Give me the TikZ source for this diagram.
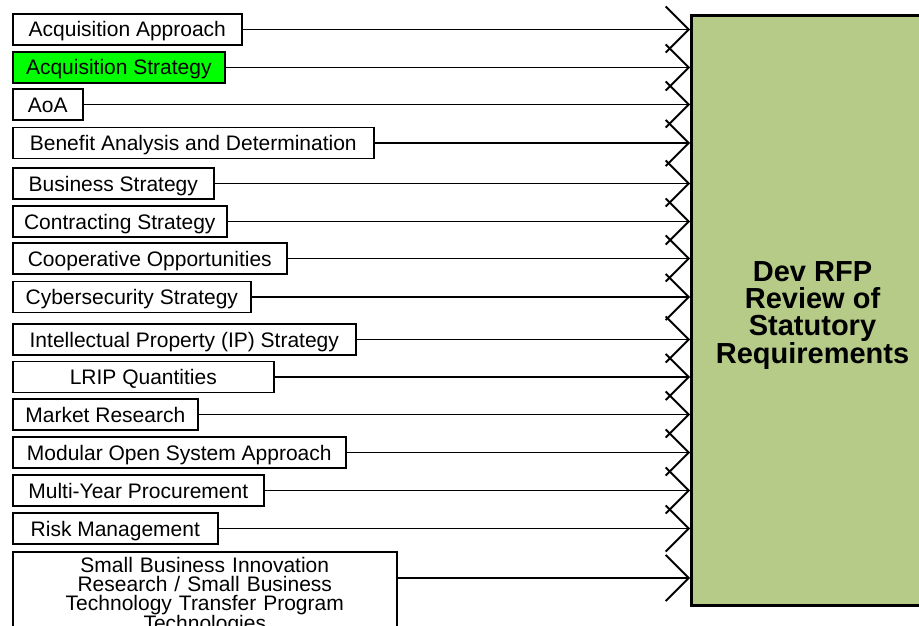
\documentclass[tikz,border=0pt]{standalone}
\usepackage{fontspec}
\setmainfont{Liberation Sans}
\usetikzlibrary{arrows.meta, positioning}
\definecolor{RFPGreen}{HTML}{B7CB88}
\definecolor{ItemHighlight}{HTML}{00FF00}

\begin{document}
\begin{tikzpicture}[
    x=1pt, y=-1pt,
    >={Straight Barb[length=23pt, width=46pt]},
    % Box Styles
    box/.style={draw=black, line width=1.6pt, fill=white, inner sep=0pt, font=\fontsize{21}{19}\selectfont},
    item/.style={box, anchor=west, minimum height=31pt, text height=15pt, text depth=0pt},
    highlight/.style={item, fill=ItemHighlight},
    review/.style={draw=black, line width=3pt, fill=RFPGreen, anchor=north west},
    reviewtext/.style={align=center, inner sep=0pt, font=\bfseries\fontsize{29}{26.7}\selectfont},
    % Connector Styles
    feed/.style={line width=1.8pt, ->}
]
    \useasboundingbox (0,0) rectangle (919,626);
    \clip (0,0) rectangle (919,626);

    % ==========================================
    % REVIEW BOX
    % ==========================================
    \node[review, minimum width=242pt, minimum height=590pt] (rfp) at (690,14) {};
    \node[reviewtext] (rfptext) at ([yshift=-5pt]rfp.center)
        {Dev RFP\\Review of\\Statutory\\Requirements};

    % ==========================================
    % INPUT ITEMS
    % ==========================================
    \node[item, minimum width=229pt] (acqapp) at (12,29.5) {Acquisition Approach};
    \node[highlight, minimum width=212pt] (acqstrat) at (12,67.5) {Acquisition Strategy};
    \node[item, minimum width=70pt] (aoa) at (12,104.5) {AoA};
    \node[item, minimum width=361pt] (benefit) at (12,143) {Benefit Analysis and Determination};
    \node[item, minimum width=201pt] (busstrat) at (12,183.5) {Business Strategy};
    \node[item, minimum width=214pt] (contract) at (12,221.5) {Contracting Strategy};
    \node[item, minimum width=274pt] (coop) at (12,258.5) {Cooperative Opportunities};
    \node[item, minimum width=238pt] (cyber) at (12,297) {Cybersecurity Strategy};
    \node[item, minimum width=343pt] (ipstrat) at (12,339.5) {Intellectual Property (IP) Strategy};
    \node[item, minimum width=261pt] (lrip) at (12,377) {LRIP Quantities};
    \node[item, minimum width=185pt] (market) at (12,414.5) {Market Research};
    \node[item, minimum width=333pt] (mosa) at (12,452.5) {Modular Open System Approach};
    \node[item, minimum width=251pt] (multiyear) at (12,490.5) {Multi-Year Procurement};
    \node[item, minimum width=205pt] (risk) at (12,528.5) {Risk Management};
    \node[box, anchor=north west, align=center, text width=370pt, inner xsep=7pt, inner ysep=5pt] (sbir) at (12,551)
        {Small Business Innovation\\Research / Small Business\\Technology Transfer Program\\Technologies};
    \coordinate (sbirout) at ([yshift=-27pt]sbir.north east);

    % ==========================================
    % CONNECTORS
    % ==========================================
    \draw[feed] (acqapp.east) -- (acqapp.east -| rfp.west);
    \draw[feed] (acqstrat.east) -- (acqstrat.east -| rfp.west);
    \draw[feed] (aoa.east) -- (aoa.east -| rfp.west);
    \draw[feed] (benefit.east) -- (benefit.east -| rfp.west);
    \draw[feed] (busstrat.east) -- (busstrat.east -| rfp.west);
    \draw[feed] (contract.east) -- (contract.east -| rfp.west);
    \draw[feed] (coop.east) -- (coop.east -| rfp.west);
    \draw[feed] (cyber.east) -- (cyber.east -| rfp.west);
    \draw[feed] (ipstrat.east) -- (ipstrat.east -| rfp.west);
    \draw[feed] (lrip.east) -- (lrip.east -| rfp.west);
    \draw[feed] (market.east) -- (market.east -| rfp.west);
    \draw[feed] (mosa.east) -- (mosa.east -| rfp.west);
    \draw[feed] (multiyear.east) -- (multiyear.east -| rfp.west);
    \draw[feed] (risk.east) -- (risk.east -| rfp.west);
    \draw[feed] (sbirout) -- (sbirout -| rfp.west);

\end{tikzpicture}
\end{document}
